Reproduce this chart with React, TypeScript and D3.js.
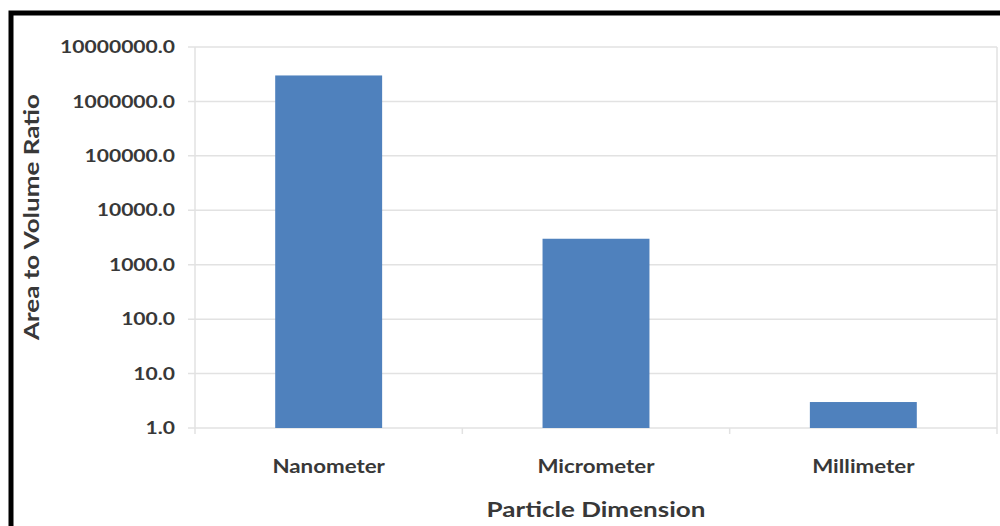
import React from "react";
import * as d3 from "d3";

// values (area to volume ratio, log scale)
const categories = ["Nanometer", "Micrometer", "Millimeter"];
const ratios = [3000000, 3000, 3];
const yTicks = [1, 10, 100, 1000, 10000, 100000, 1000000, 10000000];

const W = 1000;
const H = 526;
const plot = { left: 195, right: 997, top: 47, bottom: 428 };

const font = "Lato, 'Open Sans', sans-serif";
const textColor = "#383838";
const gridColor = "#e2e2e2";
const barColor = "#4f81bd";
// the source image's text is stretched sideways
const stretch = 1.24;

type LabelProps = {
  x: number;
  y: number;
  size: number;
  anchor: "start" | "middle" | "end";
  rotate?: number;
  dy?: string;
  children: React.ReactNode;
};

function Label({ x, y, size, anchor, rotate = 0, dy, children }: LabelProps) {
  return (
    <g transform={`translate(${x},${y}) rotate(${rotate}) scale(${stretch},1)`}>
      <text
        textAnchor={anchor}
        dy={dy}
        fontFamily={font}
        fontWeight="bold"
        fontSize={size}
        fill={textColor}
      >
        {children}
      </text>
    </g>
  );
}

export default function App() {
  const x = d3
    .scaleBand<string>()
    .domain(categories)
    .range([plot.left, plot.right])
    .paddingInner(0.6)
    .paddingOuter(0.3);

  const y = d3.scaleLog().domain([1, 10000000]).range([plot.bottom, plot.top]);

  const step = x.step();
  const catEdges = d3.range(categories.length + 1).map((i) => plot.left + i * step);

  return (
    <div style={{ position: "fixed", left: 0, top: 0 }}>
      <svg width={W} height={H} style={{ display: "block", background: "#fff" }}>
        {/* outer frame (only top and left visible) */}
        <path d={`M11,${H + 5} V13 H${W + 5}`} fill="none" stroke="#000" strokeWidth={5} />

        {/* horizontal grid */}
        {yTicks.map((t) => (
          <line
            key={"g" + t}
            x1={plot.left - 7}
            x2={plot.right}
            y1={y(t)}
            y2={y(t)}
            stroke={gridColor}
            strokeWidth={1.5}
          />
        ))}
        {/* left axis and right plot edge */}
        <line x1={plot.left} x2={plot.left} y1={plot.top} y2={plot.bottom} stroke={gridColor} strokeWidth={1.5} />
        <line x1={plot.right} x2={plot.right} y1={plot.top} y2={plot.bottom} stroke={gridColor} strokeWidth={1.5} />

        {/* category ticks */}
        {catEdges.map((cx, i) => (
          <line key={"ct" + i} x1={cx} x2={cx} y1={plot.bottom} y2={plot.bottom + 6} stroke={gridColor} strokeWidth={1.5} />
        ))}

        {/* bars */}
        {categories.map((c, i) => (
          <rect
            key={c}
            x={x(c)}
            y={y(ratios[i])}
            width={x.bandwidth()}
            height={y(1) - y(ratios[i])}
            fill={barColor}
          />
        ))}

        {/* y tick labels */}
        {yTicks.map((t) => (
          <Label key={"l" + t} x={plot.left - 20} y={y(t)} dy="0.36em" size={17} anchor="end">
            {t.toFixed(1)}
          </Label>
        ))}

        {/* x labels */}
        {categories.map((c) => (
          <Label key={"x" + c} x={(x(c) as number) + x.bandwidth() / 2} y={473} size={18} anchor="middle">
            {c}
          </Label>
        ))}

        {/* axis titles */}
        <Label x={(plot.left + plot.right) / 2} y={517} size={21} anchor="middle">
          Particle Dimension
        </Label>
        <Label x={39} y={217} size={21} anchor="middle" rotate={-90}>
          Area to Volume Ratio
        </Label>
      </svg>
    </div>
  );
}
